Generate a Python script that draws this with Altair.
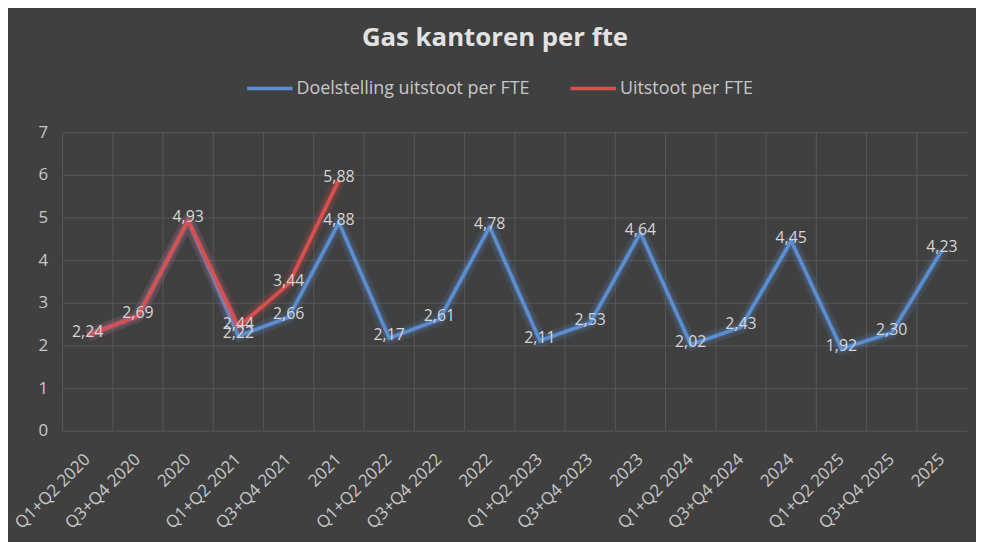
import altair as alt
import pandas as pd

categories = ["Q1+Q2 2020", "Q3+Q4 2020", "2020",
              "Q1+Q2 2021", "Q3+Q4 2021", "2021",
              "Q1+Q2 2022", "Q3+Q4 2022", "2022",
              "Q1+Q2 2023", "Q3+Q4 2023", "2023",
              "Q1+Q2 2024", "Q3+Q4 2024", "2024",
              "Q1+Q2 2025", "Q3+Q4 2025", "2025"]

doel = [2.24, 2.69, 4.93, 2.22, 2.66, 4.88, 2.17, 2.61, 4.78,
        2.11, 2.53, 4.64, 2.02, 2.43, 4.45, 1.92, 2.30, 4.23]
uitstoot = [2.24, 2.69, 4.93, 2.44, 3.44, 5.88]

s_doel = "Doelstelling uitstoot per FTE"
s_uit = "Uitstoot per FTE"
series_names = [s_doel, s_uit]
series_colors = ["#5b8fd2", "#d9504f"]

rows = []
for i, v in enumerate(doel):
    rows.append({"cat": categories[i], "value": v, "serie": s_doel,
                 "showlabel": i >= 3, "label": f"{v:.2f}".replace(".", ",")})
for i, v in enumerate(uitstoot):
    rows.append({"cat": categories[i], "value": v, "serie": s_uit,
                 "showlabel": True, "label": f"{v:.2f}".replace(".", ",")})
df = pd.DataFrame(rows)

FONT = "Open Sans"
TXT = "#c8c8c8"

x_enc = alt.X("cat:N", sort=categories, title=None,
              scale=alt.Scale(paddingInner=0, paddingOuter=0, padding=0),
              axis=alt.Axis(labelAngle=-45, labelAlign="right", labelBaseline="middle",
                            labelPadding=26, labelFontSize=17, labelColor=TXT, labelFont=FONT,
                            ticks=False, domain=False, grid=False, labelOverlap=False))
y_enc = alt.Y("value:Q", title=None,
              scale=alt.Scale(domain=[0, 7], nice=False),
              axis=alt.Axis(values=list(range(8)), labelFontSize=17, labelColor=TXT,
                            labelFont=FONT, labelPadding=15, ticks=False, domain=False,
                            gridColor="#575757", gridWidth=1, format="d"))
color_enc = alt.Color("serie:N", sort=series_names,
                      scale=alt.Scale(domain=series_names, range=series_colors),
                      legend=alt.Legend(orient="none", legendX=184, legendY=-69,
                                        direction="horizontal", title=None,
                                        symbolType="stroke", symbolSize=2100,
                                        symbolStrokeWidth=3.5, symbolOpacity=1,
                                        labelFontSize=18, labelLimit=400,
                                        labelColor=TXT, labelFont=FONT, columnPadding=34,
                                        labelOffset=2))

# vertical gridlines at category boundaries
bounds = alt.Chart(pd.DataFrame({"cat": categories})).mark_rule(
    color="#575757", strokeWidth=1).encode(
    x=alt.X("cat:N", sort=categories, bandPosition=0),
    y=alt.value(0), y2=alt.value(301))

layers = [bounds]
for name in series_names:
    sub = alt.Chart(df).transform_filter(alt.datum.serie == name)
    layers.append(sub.mark_line(strokeWidth=13, opacity=0.15, strokeJoin="round").encode(
        x=x_enc, y=y_enc, color=color_enc))
    layers.append(sub.mark_line(strokeWidth=7, opacity=0.22, strokeJoin="round").encode(
        x=x_enc, y=y_enc, color=color_enc))
    layers.append(sub.mark_line(strokeWidth=3.5, strokeJoin="round").encode(
        x=x_enc, y=y_enc, color=color_enc))

labels = alt.Chart(df).transform_filter("datum.showlabel").mark_text(
    fontSize=16, color="#d6d6d6", font=FONT, baseline="middle", align="center", dy=-3
).encode(x=x_enc, y=y_enc, text="label:N")
layers.append(labels)

chart = alt.layer(*layers).properties(
    width=912, height=301,
    autosize=alt.AutoSizeParams(type="none"),
    padding={"left": 55, "top": 123, "right": 9, "bottom": 110},
    background="#404040",
    title=alt.TitleParams("Gas kantoren per fte", fontSize=26, fontWeight="bold",
                          color="#e2e2e2", font=FONT, anchor="middle", frame="group",
                          offset=13, dx=-20),
).configure_view(stroke=None)

chart.save("out.html", embed_options={"renderer": "svg", "actions": False})
